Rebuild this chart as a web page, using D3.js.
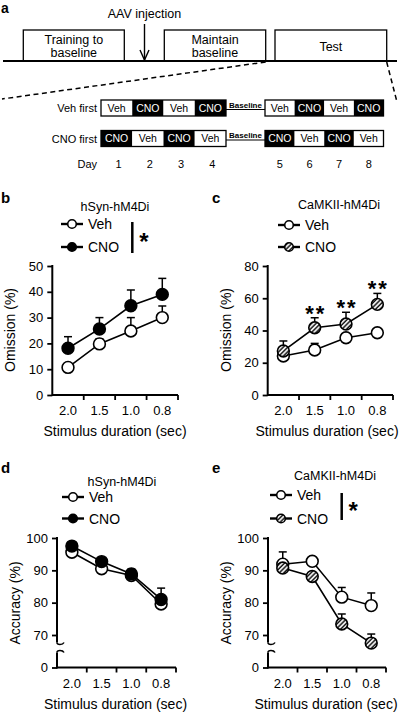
<!DOCTYPE html>
<html><head><meta charset="utf-8">
<script src="https://cdn.jsdelivr.net/npm/d3@7"></script>
<style>
body{margin:0;background:#fff}
svg{display:block}
text{font-family:"Liberation Sans",Arial,sans-serif;fill:#000}
</style>
</head><body>
<svg id="fig" width="402" height="713"></svg>
<script>
// ---------- DATA ----------
const durations = ["2.0", "1.5", "1.0", "0.8"];
const omissionTicksHsyn = [0, 10, 20, 30, 40, 50];
const omissionTicksCamk = [0, 20, 40, 60, 80];
const accuracyTicks = [70, 80, 90, 100];
const accuracyZeroTick = [0];

const hsynOmissionVeh    = [10.7, 19.8, 24.8, 30.0];
const hsynOmissionVehErr = [1.5, 2.0, 5.2, 4.5];
const hsynOmissionCNO    = [18.1, 25.6, 34.6, 39.0];
const hsynOmissionCNOErr = [4.5, 4.4, 6.1, 6.2];

const camkOmissionVeh    = [24.2, 27.9, 35.5, 38.6];
const camkOmissionVehErr = [2.0, 4.1, 2.0, 2.0];
const camkOmissionCNO    = [27.3, 41.7, 44.0, 56.2];
const camkOmissionCNOErr = [6.2, 6.2, 7.3, 6.8];
const camkOmissionSig    = ["", "**", "**", "**"];

const hsynAccuracyVeh    = [95.6, 90.5, 88.4, 79.6];
const hsynAccuracyVehErr = [1.0, 1.0, 1.0, 1.0];
const hsynAccuracyCNO    = [97.5, 92.7, 88.9, 81.0];
const hsynAccuracyCNOErr = [1.0, 1.0, 1.5, 3.5];

const camkAccuracyVeh    = [91.9, 92.8, 81.7, 79.1];
const camkAccuracyVehErr = [3.8, 1.0, 3.0, 3.9];
const camkAccuracyCNO    = [90.7, 88.1, 73.4, 67.5];
const camkAccuracyCNOErr = [1.0, 1.0, 3.1, 2.8];

const timelinePhases = [["Training to", "baseline"], ["Maintain", "baseline"], ["Test"]];
const scheduleRows = ["Veh first", "CNO first"];
const vehFirstOrder = ["Veh", "CNO", "Veh", "CNO", "Veh", "CNO", "Veh", "CNO"];
const cnoFirstOrder = ["CNO", "Veh", "CNO", "Veh", "CNO", "Veh", "CNO", "Veh"];
const days = [1, 2, 3, 4, 5, 6, 7, 8];

// ---------- SETUP ----------
const svg = d3.select("#fig");
const defs = svg.append("defs");
const pat = defs.append("pattern").attr("id", "hatch").attr("patternUnits", "userSpaceOnUse")
  .attr("width", 3.2).attr("height", 3.2).attr("patternTransform", "rotate(45)");
pat.append("rect").attr("width", 3.2).attr("height", 3.2).attr("fill", "#fff");
pat.append("line").attr("x1", 1).attr("y1", 0).attr("x2", 1).attr("y2", 3.2)
  .attr("stroke", "#111").attr("stroke-width", 1.5);

const FS = 13;

// ---------- PANEL A ----------
const A = svg.append("g");
A.append("text").attr("x", 1).attr("y", 13).attr("font-size", 14).attr("font-weight", "bold").text("a");
A.append("text").attr("x", 144.5).attr("y", 18).attr("text-anchor", "middle").attr("font-size", 12.5).text("AAV injection");
A.append("line").attr("x1", 144.5).attr("x2", 144.5).attr("y1", 24).attr("y2", 60).attr("stroke", "#000").attr("stroke-width", 1.4);
A.append("path").attr("d", "M140,50L144.5,60L149,50").attr("fill", "none").attr("stroke", "#000").attr("stroke-width", 1.4);

const phaseBoxes = [[23.3, 124.3], [164.3, 265.7], [275, 386.7]];
timelinePhases.forEach((lines, i) => {
  const [x0, x1] = phaseBoxes[i];
  A.append("rect").attr("x", x0).attr("y", 30).attr("width", x1 - x0).attr("height", 31)
    .attr("fill", "#fff").attr("stroke", "#000").attr("stroke-width", 1.3);
  const cy = 46;
  lines.forEach((t, j) => {
    A.append("text").attr("x", (x0 + x1) / 2).attr("y", cy + (j - (lines.length - 1) / 2) * 13.3 + 4.5)
      .attr("text-anchor", "middle").attr("font-size", 12.5).text(t);
  });
});
A.append("line").attr("x1", 3).attr("x2", 397).attr("y1", 61).attr("y2", 61).attr("stroke", "#000").attr("stroke-width", 2.2);
A.append("path").attr("d", "M265.7,62L2,99").attr("stroke", "#000").attr("stroke-width", 1.5).attr("stroke-dasharray", "5,3.5").attr("fill", "none");
A.append("path").attr("d", "M386.7,62L397,102").attr("stroke", "#000").attr("stroke-width", 1.5).attr("stroke-dasharray", "5,3.5").attr("fill", "none");

const g1 = d3.scaleBand().domain(days.slice(0, 4)).range([101, 226]);
const g2 = d3.scaleBand().domain(days.slice(4)).range([265, 383.5]);
const cellX = d => d <= 4 ? g1(d) : g2(d);
const cellW = d => d <= 4 ? g1.bandwidth() : g2.bandwidth();
const rowY = [100, 130.5], rowH = 16;
[vehFirstOrder, cnoFirstOrder].forEach((order, r) => {
  const y0 = rowY[r];
  A.append("text").attr("x", 97).attr("y", y0 + rowH / 2 + 4).attr("text-anchor", "end").attr("font-size", 11).text(scheduleRows[r]);
  order.forEach((trt, i) => {
    const d = days[i];
    A.append("rect").attr("x", cellX(d)).attr("y", y0).attr("width", cellW(d)).attr("height", rowH)
      .attr("fill", trt === "CNO" ? "#000" : "#fff");
    A.append("text").attr("x", cellX(d) + cellW(d) / 2).attr("y", y0 + rowH / 2 + 3.8)
      .attr("text-anchor", "middle").attr("font-size", 10.5).style("fill", trt === "CNO" ? "#fff" : "#000").text(trt);
  });
  A.append("rect").attr("x", 101).attr("y", y0).attr("width", 125).attr("height", rowH).attr("fill", "none").attr("stroke", "#000").attr("stroke-width", 1.3);
  A.append("rect").attr("x", 265).attr("y", y0).attr("width", 118.5).attr("height", rowH).attr("fill", "none").attr("stroke", "#000").attr("stroke-width", 1.3);
  A.append("line").attr("x1", 226).attr("x2", 265).attr("y1", y0 + 9.5).attr("y2", y0 + 9.5).attr("stroke", "#000").attr("stroke-width", 1.2);
  A.append("text").attr("x", 245.5).attr("y", y0 + 7.5).attr("text-anchor", "middle").attr("font-size", 8).attr("font-weight", "bold").text("Baseline");
});
A.append("text").attr("x", 97).attr("y", 167.5).attr("text-anchor", "end").attr("font-size", 11).text("Day");
days.forEach(d => {
  A.append("text").attr("x", cellX(d) + cellW(d) / 2 + (d <= 4 ? 2 : 0)).attr("y", 167.5).attr("text-anchor", "middle").attr("font-size", 11).text(d);
});

// ---------- LINE PANELS ----------
function marker(g, cx, cy, r, kind) {
  g.append("circle").attr("cx", cx).attr("cy", cy).attr("r", r)
    .attr("fill", kind === "filled" ? "#000" : kind === "hatch" ? "url(#hatch)" : "#fff")
    .attr("stroke", "#000").attr("stroke-width", 1.6);
}

function panel(cfg) {
  const g = svg.append("g");
  const x = d3.scaleBand().domain(durations).range([cfg.x0, cfg.x1]);
  const xc = d => x(d) + x.bandwidth() / 2;
  const y = d3.scaleLinear().domain(cfg.yDomain).range(cfg.yRange);

  g.append("text").attr("x", cfg.letterX).attr("y", cfg.letterY).attr("font-size", 15).attr("font-weight", "bold").text(cfg.letter);
  g.append("text").attr("x", cfg.titleX).attr("y", cfg.titleY).attr("text-anchor", "middle").attr("font-size", 12.5).text(cfg.title);

  cfg.series.forEach((s, i) => {
    const ly = cfg.legendY[i];
    g.append("line").attr("x1", cfg.legendX).attr("x2", cfg.legendX + 22).attr("y1", ly).attr("y2", ly).attr("stroke", "#000").attr("stroke-width", 2.4);
    marker(g, cfg.legendX + 11, ly, 4.3, s.kind);
    g.append("text").attr("x", cfg.legendX + 27).attr("y", ly + 5).attr("font-size", 14).text(s.name);
  });
  if (cfg.sigBar) {
    const sb = cfg.sigBar;
    g.append("line").attr("x1", sb.x).attr("x2", sb.x).attr("y1", sb.y0).attr("y2", sb.y1).attr("stroke", "#000").attr("stroke-width", 2.5);
    g.append("text").attr("x", sb.x + 11.5).attr("y", (sb.y0 + sb.y1) / 2 + 12).attr("text-anchor", "middle")
      .attr("font-size", 24).attr("font-weight", "bold").text("*");
  }

  const yAx = d3.axisLeft(y).tickValues(cfg.ticks).tickSize(5).tickPadding(4).tickSizeOuter(0);
  const ya = g.append("g").attr("transform", `translate(${cfg.x0},0)`).call(yAx);
  ya.select(".domain").remove();
  ya.selectAll("text").attr("font-size", FS).style("font-family", "Liberation Sans, Arial, sans-serif");
  ya.selectAll("line").attr("stroke-width", 1.8);
  if (cfg.broken) {
    const y0s = d3.scaleLinear().domain([0, 10]).range([cfg.zeroY, cfg.zeroY - 30]);
    const ya0 = g.append("g").attr("transform", `translate(${cfg.x0},0)`).call(d3.axisLeft(y0s).tickValues(accuracyZeroTick).tickSize(5).tickPadding(4));
    ya0.select(".domain").remove();
    ya0.selectAll("text").attr("font-size", FS).style("font-family", "Liberation Sans, Arial, sans-serif");
    ya0.selectAll("line").attr("stroke-width", 1.8);
    const topY = y(cfg.yDomain[1]);
    const bt = cfg.zeroY - 25, bb = cfg.zeroY - 15;
    g.append("line").attr("x1", cfg.x0).attr("x2", cfg.x0).attr("y1", topY - 1).attr("y2", bt).attr("stroke", "#000").attr("stroke-width", 2);
    g.append("path").attr("d", `M${cfg.x0},${bt} q0,2 3,2 t4,-2`).attr("fill", "none").attr("stroke", "#000").attr("stroke-width", 1.6);
    g.append("path").attr("d", `M${cfg.x0},${bb} q0,-2 3,-2 t4,2`).attr("fill", "none").attr("stroke", "#000").attr("stroke-width", 1.6);
    g.append("line").attr("x1", cfg.x0).attr("x2", cfg.x0).attr("y1", bb).attr("y2", cfg.zeroY + 1).attr("stroke", "#000").attr("stroke-width", 2);
  } else {
    g.append("line").attr("x1", cfg.x0).attr("x2", cfg.x0).attr("y1", y(cfg.yDomain[1]) - 1).attr("y2", cfg.baseY + 1).attr("stroke", "#000").attr("stroke-width", 2);
  }
  const baseY = cfg.broken ? cfg.zeroY : cfg.baseY;

  g.append("line").attr("x1", cfg.x0).attr("x2", cfg.x1).attr("y1", baseY).attr("y2", baseY).attr("stroke", "#000").attr("stroke-width", 2);
  const xa = g.append("g").attr("transform", `translate(0,${baseY})`).call(d3.axisBottom(x).tickSize(0).tickPadding(11));
  xa.select(".domain").remove();
  xa.selectAll("text").attr("font-size", FS).style("font-family", "Liberation Sans, Arial, sans-serif");
  durations.forEach(d => {
    const tx = x(d) + x.bandwidth();
    g.append("line").attr("x1", tx).attr("x2", tx).attr("y1", baseY).attr("y2", baseY + 5).attr("stroke", "#000").attr("stroke-width", 1.8);
  });
  g.append("text").attr("x", cfg.xTitleX).attr("y", baseY + 41).attr("text-anchor", "middle").attr("font-size", 14).text("Stimulus duration (sec)");
  g.append("text").attr("transform", `translate(${cfg.x0 - 37},${cfg.yTitleY}) rotate(-90)`).attr("text-anchor", "middle").attr("font-size", 14).text(cfg.yTitle);

  const line = d3.line().x((v, i) => xc(durations[i])).y(v => y(v));
  cfg.series.forEach(s => {
    s.values.forEach((v, i) => {
      const cx = xc(durations[i]), top = y(v + s.err[i]);
      g.append("line").attr("x1", cx).attr("x2", cx).attr("y1", y(v)).attr("y2", top).attr("stroke", "#000").attr("stroke-width", 1.5);
      g.append("line").attr("x1", cx - 4).attr("x2", cx + 4).attr("y1", top).attr("y2", top).attr("stroke", "#000").attr("stroke-width", 1.5);
    });
  });
  cfg.series.forEach(s => {
    g.append("path").attr("d", line(s.values)).attr("fill", "none").attr("stroke", "#000").attr("stroke-width", 1.6);
    s.values.forEach((v, i) => marker(g, xc(durations[i]), y(v), 5.9, s.kind));
  });
  if (cfg.sig) {
    cfg.sig.forEach((t, i) => {
      if (!t) return;
      const s = cfg.series[1];
      g.append("text").attr("x", xc(durations[i]) + 1).attr("y", y(s.values[i] + s.err[i]) + 3).attr("text-anchor", "middle")
        .attr("font-size", 22).attr("font-weight", "bold").attr("letter-spacing", 2).text(t);
    });
  }
}

panel({
  letter: "b", letterX: 1, letterY: 203, title: "hSyn-hM4Di", titleX: 115, titleY: 211,
  legendX: 61, legendY: [224, 247], sigBar: {x: 132.3, y0: 222, y1: 253},
  x0: 52.3, x1: 178, yDomain: [0, 50], yRange: [395, 266], ticks: omissionTicksHsyn, baseY: 395,
  xTitleX: 115, yTitle: "Omission (%)", yTitleY: 330,
  series: [
    {name: "Veh", kind: "open", values: hsynOmissionVeh, err: hsynOmissionVehErr},
    {name: "CNO", kind: "filled", values: hsynOmissionCNO, err: hsynOmissionCNOErr}
  ]
});
panel({
  letter: "c", letterX: 212, letterY: 203, title: "CaMKII-hM4Di", titleX: 339, titleY: 208.5,
  legendX: 278, legendY: [225, 247],
  x0: 267.7, x1: 393, yDomain: [0, 80], yRange: [395, 266], ticks: omissionTicksCamk, baseY: 395,
  xTitleX: 327, yTitle: "Omission (%)", yTitleY: 330,
  sig: camkOmissionSig,
  series: [
    {name: "Veh", kind: "open", values: camkOmissionVeh, err: camkOmissionVehErr},
    {name: "CNO", kind: "hatch", values: camkOmissionCNO, err: camkOmissionCNOErr}
  ]
});
panel({
  letter: "d", letterX: 1, letterY: 473, title: "hSyn-hM4Di", titleX: 122, titleY: 486,
  legendX: 62, legendY: [497, 518.5],
  x0: 57, x1: 176, yDomain: [70, 100], yRange: [635, 538], ticks: accuracyTicks, broken: true, zeroY: 667.5,
  xTitleX: 115.5, yTitle: "Accuracy (%)", yTitleY: 603,
  series: [
    {name: "Veh", kind: "open", values: hsynAccuracyVeh, err: hsynAccuracyVehErr},
    {name: "CNO", kind: "filled", values: hsynAccuracyCNO, err: hsynAccuracyCNOErr}
  ]
});
panel({
  letter: "e", letterX: 212, letterY: 473, title: "CaMKII-hM4Di", titleX: 335, titleY: 479.5,
  legendX: 270, legendY: [495, 518.5], sigBar: {x: 341.7, y0: 493, y1: 520},
  x0: 268, x1: 386, yDomain: [70, 100], yRange: [635, 538], ticks: accuracyTicks, broken: true, zeroY: 667.5,
  xTitleX: 326, yTitle: "Accuracy (%)", yTitleY: 603,
  series: [
    {name: "Veh", kind: "open", values: camkAccuracyVeh, err: camkAccuracyVehErr},
    {name: "CNO", kind: "hatch", values: camkAccuracyCNO, err: camkAccuracyCNOErr}
  ]
});
</script>
</body></html>
